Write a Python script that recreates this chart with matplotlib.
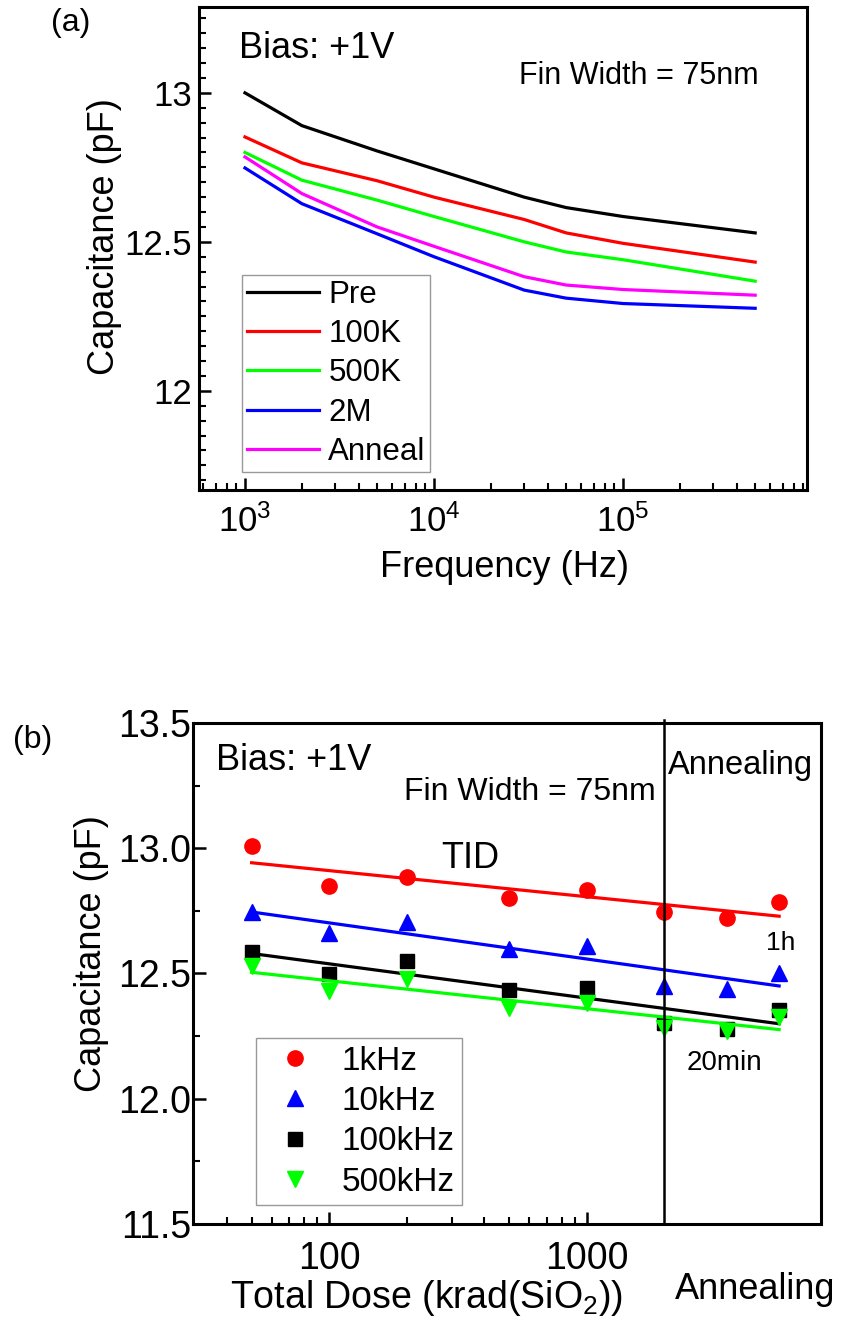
import numpy as np
import matplotlib
matplotlib.use('Agg')
import matplotlib.pyplot as plt
from matplotlib.ticker import MultipleLocator, FixedLocator, NullFormatter, FormatStrFormatter

plt.rcParams['font.family'] = ['Liberation Sans', 'DejaVu Sans']
plt.rcParams['mathtext.fontset'] = 'custom'
plt.rcParams['mathtext.rm'] = 'Liberation Sans'
plt.rcParams['mathtext.it'] = 'Liberation Sans:italic'
plt.rcParams['axes.linewidth'] = 2.2

# (a) C-f curves
freq = [1e3, 2e3, 5e3, 1e4, 3e4, 5e4, 1e5, 5e5]
cap_pre = [13.00, 12.89, 12.805, 12.745, 12.65, 12.615, 12.585, 12.53]
cap_100k = [12.852, 12.765, 12.705, 12.65, 12.575, 12.53, 12.495, 12.432]
cap_500k = [12.80, 12.707, 12.64, 12.585, 12.50, 12.466, 12.44, 12.368]
cap_2m = [12.748, 12.628, 12.527, 12.45, 12.338, 12.311, 12.293, 12.277]
cap_anneal = [12.785, 12.662, 12.55, 12.485, 12.383, 12.355, 12.34, 12.321]
labels_a = ['Pre', '100K', '500K', '2M', 'Anneal']
colors_a = ['black', '#ff0000', '#00ff00', '#0000ff', '#ff00ff']

# (b) capacitance vs dose (last two = annealing 20min, 1h)
dose = [50, 100, 200, 500, 1000, 2000, 3500, 5600]
c_1k = [13.007, 12.85, 12.887, 12.80, 12.834, 12.746, 12.72, 12.786]
c_10k = [12.747, 12.663, 12.706, 12.597, 12.61, 12.45, 12.437, 12.50]
c_100k = [12.584, 12.497, 12.55, 12.435, 12.444, 12.304, 12.28, 12.354]
c_500k = [12.53, 12.43, 12.477, 12.364, 12.384, 12.284, 12.27, 12.328]
labels_b = ['1kHz', '10kHz', '100kHz', '500kHz']
colors_b = ['#ff0000', '#0000ff', 'black', '#00ff00']
markers_b = ['o', '^', 's', 'v']

fig = plt.figure(figsize=(8.46, 13.27), dpi=100)

# ---------- panel (a) ----------
ax1 = fig.add_axes([0.2352, 0.6307, 0.7187, 0.3640])
for ys, lab, col in zip([cap_pre, cap_100k, cap_500k, cap_2m, cap_anneal], labels_a, colors_a):
    ax1.plot(freq, ys, color=col, lw=2.3, label=lab)
ax1.set_xscale('log')
ax1.set_xlim(571, 9.4e5)
ax1.set_ylim(11.667, 13.288)
ax1.yaxis.set_major_locator(MultipleLocator(0.5))
ax1.yaxis.set_minor_locator(MultipleLocator(0.05))
ax1.yaxis.set_major_formatter(FormatStrFormatter('%g'))
ax1.tick_params(which='both', direction='in', top=False, right=False, labelsize=25)
ax1.tick_params(which='major', length=8.5, width=1.8, pad=5)
ax1.tick_params(which='minor', length=5, width=1.5)
ax1.tick_params(axis='x', which='major', pad=10.5)
ax1.set_xlabel('Frequency (Hz)', fontsize=26)
ax1.set_ylabel('Capacitance (pF)', fontsize=26)
ax1.xaxis.set_label_coords(0.5025, -0.161)
ax1.xaxis.label.set_va('center')
ax1.yaxis.set_label_coords(-0.1546, 0.524)
ax1.yaxis.label.set_va('center')
leg = ax1.legend(loc='lower left', bbox_to_anchor=(0.0715, 0.038), borderaxespad=0,
                 fontsize=22.5, handlelength=2.3, handletextpad=0.3, labelspacing=0.3,
                 borderpad=0.15, fancybox=False, framealpha=1)
leg.get_frame().set_edgecolor('#999999')
leg.get_frame().set_linewidth(1.0)
ax1.text(0.065, 0.915, 'Bias: +1V', transform=ax1.transAxes, fontsize=26, va='center')
ax1.text(0.92, 0.857, 'Fin Width = 75nm', transform=ax1.transAxes, fontsize=22, va='center', ha='right')
fig.text(0.084, 0.9827, '(a)', fontsize=23, ha='center', va='center')

# ---------- panel (b) ----------
ax2 = fig.add_axes([0.2281, 0.0776, 0.7423, 0.3776])
lx = np.log10(dose)
for ys, lab, col, mk in zip([c_1k, c_10k, c_100k, c_500k], labels_b, colors_b, markers_b):
    ms = 9.5 if mk == 's' else 11
    ax2.plot(dose, ys, ls='none', marker=mk, ms=ms, color=col, label=lab)
    k, b = np.polyfit(lx, ys, 1)
    ax2.plot([dose[0], dose[-1]], k * np.log10([dose[0], dose[-1]]) + b, color=col, lw=2.3)
ax2.axvline(2000, ymin=0, ymax=1.006, color='black', lw=1.8, zorder=5, clip_on=False)
ax2.set_xscale('log')
ax2.set_xlim(29.6, 8140)
ax2.set_ylim(11.5, 13.5)
ax2.xaxis.set_major_locator(FixedLocator([100, 1000]))
ax2.xaxis.set_minor_locator(FixedLocator([40, 50, 60, 70, 80, 90, 200, 300, 400, 500, 600, 700, 800, 900]))
ax2.xaxis.set_major_formatter(FormatStrFormatter('%d'))
ax2.xaxis.set_minor_formatter(NullFormatter())
ax2.yaxis.set_major_locator(MultipleLocator(0.5))
ax2.yaxis.set_minor_locator(MultipleLocator(0.25))
ax2.yaxis.set_major_formatter(FormatStrFormatter('%.1f'))
ax2.tick_params(which='both', direction='in', top=False, right=False, labelsize=27)
ax2.tick_params(which='major', length=9, width=1.8)
ax2.tick_params(which='minor', length=5, width=1.5)
ax2.tick_params(axis='y', which='major', pad=1)
ax2.tick_params(axis='x', which='major', pad=12)
ax2.set_xlabel('Total Dose (krad(SiO$_2$))', fontsize=27)
ax2.set_ylabel('Capacitance (pF)', fontsize=26)
ax2.xaxis.set_label_coords(0.3726, -0.148)
ax2.xaxis.label.set_va('center')
ax2.yaxis.set_label_coords(-0.161, 0.539)
ax2.yaxis.label.set_va('center')
leg2 = ax2.legend(loc='lower left', bbox_to_anchor=(0.1003, 0.038), borderaxespad=0,
                  fontsize=24, handlelength=1.9, handletextpad=0.45, labelspacing=0.28,
                  borderpad=0.22, fancybox=False, framealpha=1, numpoints=1)
leg2.get_frame().set_edgecolor('#999999')
leg2.get_frame().set_linewidth(1.0)
ax2.text(0.0366, 0.926, 'Bias: +1V', transform=ax2.transAxes, fontsize=26, va='center')
ax2.text(0.737, 0.862, 'Fin Width = 75nm', transform=ax2.transAxes, fontsize=23, va='center', ha='right')
ax2.text(0.987, 0.916, 'Annealing', transform=ax2.transAxes, fontsize=23.5, va='center', ha='right')
ax2.text(0.441, 0.7285, 'TID', transform=ax2.transAxes, fontsize=26, va='center', ha='center')
ax2.text(0.936, 0.561, '1h', transform=ax2.transAxes, fontsize=19, va='center', ha='center')
ax2.text(0.847, 0.321, '20min', transform=ax2.transAxes, fontsize=20, va='center', ha='center')
fig.text(0.798, 0.0279, 'Annealing', fontsize=26, va='center', ha='left')
fig.text(0.039, 0.4424, '(b)', fontsize=23, ha='center', va='center')

fig.savefig('out.png', dpi=100)
